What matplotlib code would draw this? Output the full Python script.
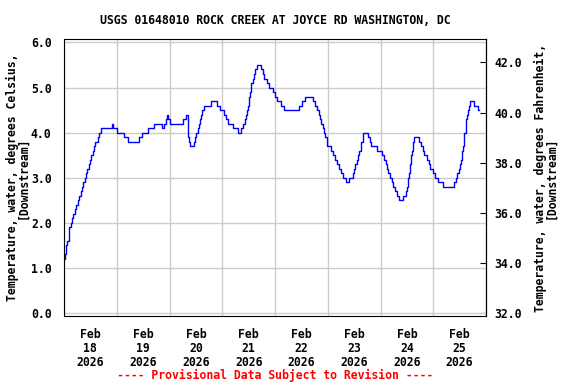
import matplotlib
matplotlib.use("Agg")
import matplotlib.pyplot as plt
import matplotlib.dates as mdates
import pandas as pd

# water temperature, hours since 2026-02-18 00:00 and deg C (step series)
hours = [0.0, 0.6, 0.9, 1.0, 1.2, 2.1, 2.3, 2.4, 3.0, 3.6, 4.2, 4.8, 5.5, 6.4, 7.0, 7.6,
         8.2, 8.8, 9.4, 10.0, 10.6, 11.2, 11.9, 12.5, 13.1, 13.7, 14.3, 15.5, 16.1, 16.7,
         22.0, 22.4,
         24.3, 27.1, 29.2, 34.0, 35.6, 38.0, 40.8, 44.4, 45.6, 46.2, 46.8, 47.1,
         48.1, 54.1, 55.4, 56.3, 56.6, 56.9, 57.2, 59.0, 59.6, 60.2, 60.8, 61.4, 62.1,
         62.3, 63.0, 63.6, 66.9, 69.4, 70.9, 72.7,
         73.9, 74.8, 76.7, 79.1, 80.6, 81.5, 82.4, 82.9, 83.3, 83.6, 84.0, 84.2, 84.6,
         84.9, 85.1, 85.8, 86.4, 87.0, 87.9, 89.7, 90.5, 91.1, 92.2, 93.4, 95.2,
         96.1, 96.7, 98.6, 100.1, 107.0, 108.3, 109.5, 113.4, 114.3, 115.3, 115.9,
         116.5, 117.1, 117.7, 118.3, 118.9, 119.5, 119.8,
         121.4, 122.6, 123.2, 124.4, 125.0, 125.9, 126.8, 128.4, 129.6, 131.4, 132.0,
         132.6, 133.2, 133.8, 134.4, 135.1, 135.3, 136.0, 136.2, 138.1, 139.0, 139.9,
         142.6,
         144.5, 145.7, 146.3, 146.9, 147.5, 148.4, 149.3, 149.9, 150.8, 151.5, 152.4,
         154.2, 155.4, 156.0, 156.3, 156.6, 157.0, 157.2, 157.6, 157.9, 158.1, 158.5,
         158.6, 158.8, 159.1, 161.5, 162.4, 163.3, 163.9, 165.2, 166.1, 166.7,
         167.9, 168.8, 170.0, 172.5, 177.3, 178.2, 178.9, 179.5, 180.0, 180.7, 181.0,
         181.3, 181.6, 181.9, 182.1, 182.2, 182.7, 182.8, 183.0, 183.4, 184.0, 184.3,
         184.6, 186.4, 188.3, 188.7]
temp_c = [1.2, 1.3, 1.4, 1.5, 1.6, 1.7, 1.8, 1.9, 2.0, 2.1, 2.2, 2.3, 2.4, 2.5, 2.6, 2.7,
          2.8, 2.9, 3.0, 3.1, 3.2, 3.3, 3.4, 3.5, 3.6, 3.7, 3.8, 3.9, 4.0, 4.1,
          4.2, 4.1,
          4.0, 3.9, 3.8, 3.9, 4.0, 4.1, 4.2, 4.1, 4.2, 4.3, 4.4, 4.3,
          4.2, 4.3, 4.4, 4.0, 3.9, 3.8, 3.7, 3.8, 3.9, 4.0, 4.1, 4.2, 4.3,
          4.4, 4.5, 4.6, 4.7, 4.6, 4.5, 4.4,
          4.3, 4.2, 4.1, 4.0, 4.1, 4.2, 4.3, 4.4, 4.5, 4.6, 4.7, 4.8, 4.9,
          5.0, 5.1, 5.2, 5.3, 5.4, 5.5, 5.4, 5.3, 5.2, 5.1, 5.0, 4.9,
          4.8, 4.7, 4.6, 4.5, 4.6, 4.7, 4.8, 4.7, 4.6, 4.5, 4.4,
          4.3, 4.2, 4.1, 4.0, 3.9, 3.8, 3.7,
          3.6, 3.5, 3.4, 3.3, 3.2, 3.1, 3.0, 2.9, 3.0, 3.1, 3.2,
          3.3, 3.4, 3.5, 3.6, 3.7, 3.8, 3.9, 4.0, 3.9, 3.8, 3.7,
          3.6,
          3.5, 3.4, 3.3, 3.2, 3.1, 3.0, 2.9, 2.8, 2.7, 2.6, 2.5,
          2.6, 2.7, 2.8, 2.9, 3.0, 3.1, 3.2, 3.3, 3.4, 3.5, 3.6,
          3.7, 3.8, 3.9, 3.8, 3.7, 3.6, 3.5, 3.4, 3.3, 3.2,
          3.1, 3.0, 2.9, 2.8, 2.9, 3.0, 3.1, 3.2, 3.3, 3.4, 3.5,
          3.6, 3.7, 3.8, 3.9, 4.0, 4.1, 4.2, 4.3, 4.4, 4.5, 4.6,
          4.7, 4.6, 4.5, 4.5]

f_ticks = [32, 34, 36, 38, 40, 42]

title = "USGS 01648010 ROCK CREEK AT JOYCE RD WASHINGTON, DC"
left_label = "Temperature, water, degrees Celsius,\n[Downstream]"
right_label = "Temperature, water, degrees Fahrenheit,\n[Downstream]"
footer = "---- Provisional Data Subject to Revision ----"

start = pd.Timestamp("2026-02-18")
times = start + pd.to_timedelta(hours, unit="h")

plt.rcParams["font.family"] = "DejaVu Sans Mono"
plt.rcParams["font.weight"] = "bold"
plt.rcParams["font.size"] = 8.3

W, H = 576, 384
fig = plt.figure(figsize=(W / 100, H / 100), dpi=100)
ax = fig.add_axes([64 / W, 1 - 316 / H, (486 - 64) / W, (316 - 39.3) / H])

ax.plot(times, temp_c, drawstyle="steps-post", color="#0000ff", lw=1)

ax.set_xlim(start, start + pd.Timedelta(days=8))
ax.set_ylim(-0.07, 6.07)
ax.set_yticks([0, 1, 2, 3, 4, 5, 6])
ax.yaxis.set_major_formatter("{x:.1f}")

ax.xaxis.set_major_locator(mdates.HourLocator(byhour=12))
ax.xaxis.set_major_formatter(mdates.DateFormatter("%b\n%d\n%Y"))
ax.xaxis.set_minor_locator(mdates.DayLocator())
ax.grid(which="minor", axis="x", color="#cccccc", lw=1)
ax.grid(which="major", axis="y", color="#cccccc", lw=1)
ax.set_axisbelow(True)
ax.tick_params(axis="x", which="both", length=0, pad=9)
ax.tick_params(axis="y", length=0, pad=9)
for t in ax.xaxis.get_major_ticks():
    t.label1.set_linespacing(1.05)

sec = ax.secondary_yaxis("right", functions=(lambda c: c * 9 / 5 + 32,
                                             lambda f: (f - 32) * 5 / 9))
sec.set_yticks(f_ticks)
sec.yaxis.set_major_formatter("{x:.1f}")
sec.tick_params(direction="in", length=4, pad=6)

fig.text(275 / W, 1 - 20 / H, title, ha="center", va="center")
fig.text(17.7 / W, 1 - 177.6 / H, left_label, rotation=90, ha="center",
         va="center", linespacing=0.8)
fig.text(545.7 / W, 1 - 177.6 / H, right_label, rotation=90, ha="center",
         va="center", linespacing=0.8)
fig.text(275 / W, 1 - 375 / H, footer, ha="center", va="center", color="red")

fig.savefig("out.png", dpi=100)
